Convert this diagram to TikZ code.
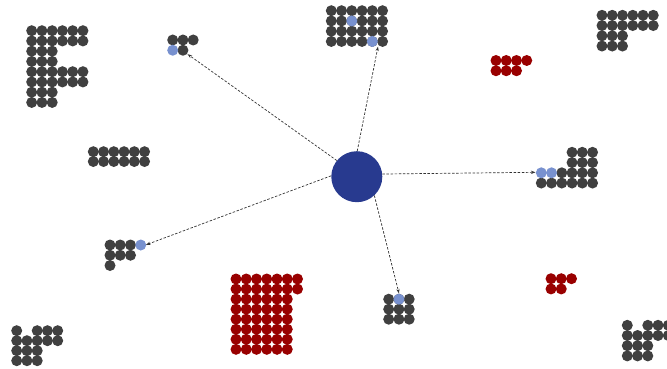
\documentclass[tikz,border=0pt]{standalone}
\usetikzlibrary{arrows.meta}
\definecolor{dkc}{HTML}{404040}
\definecolor{blc}{HTML}{7891CF}
\definecolor{rdc}{HTML}{990000}
\definecolor{hubc}{HTML}{283A8F}
\definecolor{lnc}{HTML}{333333}
\newcommand{\pp}{10.25}
\newcommand{\rr}{5.5}
\begin{document}
\begin{tikzpicture}[x=1pt,y=-1pt,
  dkdot/.style={fill=dkc},
  bldot/.style={fill=blc},
  rddot/.style={fill=rdc},
  conn/.style={draw=lnc, line width=0.7pt, dash pattern=on 2.5pt off 1.6pt,
    -{Stealth[length=4.5pt,width=3.2pt]}}]
\useasboundingbox (0,0) rectangle (667,369);
\clip (0,0) rectangle (667,369);

% F-shaped cluster (top left)
\begin{scope}[shift={(31.7,30.7)}]
  \foreach \r in {0,1,4,5} \foreach \c in {0,...,5} \fill[dkdot] (\c*\pp,\r*\pp) circle (\rr);
  \foreach \r in {2,3,6,7} \foreach \c in {0,1,2} \fill[dkdot] (\c*\pp,\r*\pp) circle (\rr);
\end{scope}

% small cluster (top left)
\begin{scope}[shift={(172.7,40)}]
  \foreach \c/\r in {0/0,1/0,2/0,1/1} \fill[dkdot] (\c*\pp,\r*\pp) circle (\rr);
  \fill[bldot] (0,\pp) circle (\rr);
\end{scope}

% top centre cluster
\begin{scope}[shift={(331.3,10.7)}]
  \foreach \r in {0,...,3} \foreach \c in {0,...,5} \fill[dkdot] (\c*\pp,\r*\pp) circle (\rr);
  \fill[bldot] (2*\pp,1*\pp) circle (\rr);
  \fill[bldot] (4*\pp,3*\pp) circle (\rr);
\end{scope}

% red cluster (top)
\begin{scope}[shift={(496,60.5)}]
  \foreach \c in {0,...,3} \fill[rddot] (\c*\pp,0) circle (\rr);
  \foreach \c in {0,1,2} \fill[rddot] (\c*\pp,\pp) circle (\rr);
\end{scope}

% top right cluster
\begin{scope}[shift={(602,15.3)}]
  \foreach \r in {0,1} \foreach \c in {0,...,5} \fill[dkdot] (\c*\pp,\r*\pp) circle (\rr);
  \foreach \r in {2,3} \foreach \c in {0,1,2} \fill[dkdot] (\c*\pp,\r*\pp) circle (\rr);
\end{scope}

% middle left cluster
\begin{scope}[shift={(93.3,151.7)}]
  \foreach \r in {0,1} \foreach \c in {0,...,5} \fill[dkdot] (\c*\pp,\r*9.8) circle (\rr);
\end{scope}

% lower left cluster
\begin{scope}[shift={(110,245)}]
  \foreach \c/\r in {0/0,1/0,2/0,0/1,1/1,2/1,0/2} \fill[dkdot] (\c*\pp,\r*\pp) circle (\rr);
  \fill[bldot] (3*\pp,0) circle (\rr);
\end{scope}

% right cluster
\begin{scope}[shift={(541.3,152.3)}]
  \foreach \r in {0,1} \foreach \c in {3,4,5} \fill[dkdot] (\c*\pp,\r*\pp) circle (\rr);
  \foreach \c in {2,...,5} \fill[dkdot] (\c*\pp,2*\pp) circle (\rr);
  \foreach \c in {0,...,5} \fill[dkdot] (\c*\pp,3*\pp) circle (\rr);
  \fill[bldot] (0,2*\pp) circle (\rr);
  \fill[bldot] (\pp,2*\pp) circle (\rr);
\end{scope}

% bottom left cluster
\begin{scope}[shift={(16.7,330.7)}]
  \foreach \c/\r in {0/0,2/0,3/0,4/0,0/1,1/1,2/1,3/1,4/1,0/2,1/2,2/2,0/3,1/3,2/3}
    \fill[dkdot] (\c*\pp,\r*10) circle (\rr);
\end{scope}

% big red cluster
\begin{scope}[shift={(236,279)}]
  \foreach \r in {0,1} \foreach \c in {0,...,6} \fill[rddot] (\c*\pp,\r*10.05) circle (\rr);
  \foreach \r in {2,...,7} \foreach \c in {0,...,5} \fill[rddot] (\c*\pp,\r*10.05) circle (\rr);
\end{scope}

% bottom centre cluster
\begin{scope}[shift={(388.7,299.2)}]
  \foreach \r in {0,1,2} \foreach \c in {0,1,2} \fill[dkdot] (\c*\pp,\r*10) circle (\rr);
  \fill[bldot] (\pp,0) circle (\rr);
\end{scope}

% red cluster (lower right)
\begin{scope}[shift={(551,278.7)}]
  \foreach \c in {0,1,2} \fill[rddot] (\c*\pp,0) circle (\rr);
  \foreach \c in {0,1} \fill[rddot] (\c*\pp,\pp) circle (\rr);
\end{scope}

% bottom right cluster
\begin{scope}[shift={(627.3,325.3)}]
  \foreach \c/\r in {0/0,2/0,3/0,4/0,0/1,1/1,2/1,3/1,4/1,0/2,1/2,2/2,0/3,1/3,2/3}
    \fill[dkdot] (\c*\pp,\r*10.2) circle (\rr);
\end{scope}

% hub
\node[circle, fill=hubc, minimum size=51pt, inner sep=0pt] (hub) at (356.8,176.7) {};

% arrow end points
\coordinate (e1) at (187.6,54.2);
\coordinate (e2) at (378.0,46.6);
\coordinate (e3) at (535.5,172.3);
\coordinate (e4) at (146.0,244.8);
\coordinate (e5) at (399.0,293.4);

\draw[conn] (hub.141.6) -- (e1);
\draw[conn] (hub.89.5) -- (e2);
\draw[conn] (hub.6.8) -- (e3);
\draw[conn] (hub.178.4) -- (e4);
\draw[conn] (hub.-47.7) -- (e5);
\end{tikzpicture}
\end{document}
